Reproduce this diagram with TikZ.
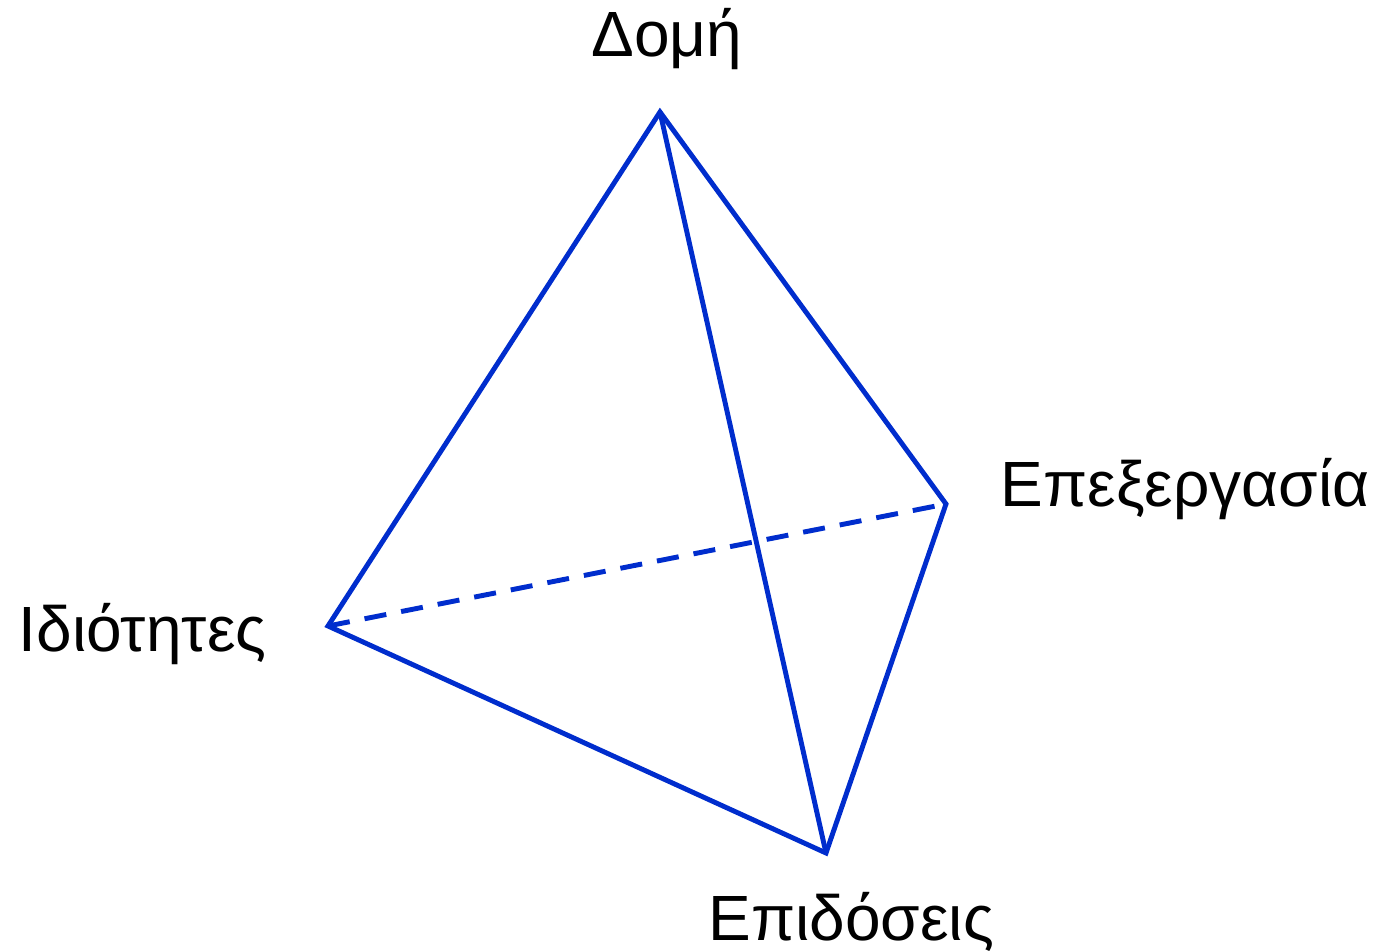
\documentclass[tikz,border=0pt]{standalone}
\usepackage{fontspec}
\setmainfont{Liberation Sans}
\usetikzlibrary{calc}
\definecolor{edgeblue}{RGB}{0,45,205}
\tikzset{
    edge/.style={draw=edgeblue,line width=1.4pt},
    hiddenedge/.style={edge,dash pattern=on 6.3pt off 4.3pt},
    vlabel/.style={inner sep=0pt,font=\fontsize{18.2}{22}\selectfont}
}
\begin{document}
\begin{tikzpicture}
    \useasboundingbox (0,0) rectangle (13.73,9.52);
    % Vertices
    \coordinate (struct) at (6.60,8.40);
    \coordinate (proc) at (9.46,4.48);
    \coordinate (props) at (3.28,3.26);
    \coordinate (perf) at (8.26,0.99);
    % Labels
    \node[vlabel,anchor=base] (structlbl) at (6.67,8.95) {Δομή};
    \node[vlabel,anchor=base west] (proclbl) at (10.00,4.45) {Επεξεργασία};
    \node[vlabel,anchor=base west] (propslbl) at (0.18,3.00) {Ιδιότητες};
    \node[vlabel,anchor=base west] (perflbl) at (7.08,0.12) {Επιδόσεις};
    % Hidden edge
    \draw[hiddenedge] (props) -- (proc);
    % Visible edges
    \draw[edge] (props) -- (struct) -- (proc) -- (perf) -- cycle;
    \draw[edge] (struct) -- (perf);
\end{tikzpicture}
\end{document}
